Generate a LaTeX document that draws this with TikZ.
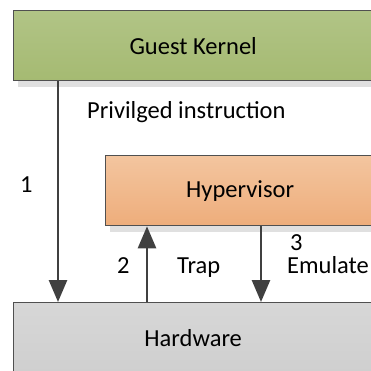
\documentclass[tikz,border=0pt]{standalone}
\usepackage{fontspec}
\setmainfont{Carlito}
\usetikzlibrary{arrows.meta,shadows,positioning}
\definecolor{gkTop}{HTML}{B1C486}
\definecolor{gkBot}{HTML}{A5BA72}
\definecolor{hvTop}{HTML}{F3C59F}
\definecolor{hvBot}{HTML}{EEAD7B}
\definecolor{hwTop}{HTML}{D7D7D7}
\definecolor{hwBot}{HTML}{CFCFCF}
\definecolor{edge}{HTML}{505050}
\definecolor{arr}{HTML}{404040}
\tikzset{
  layer/.style={draw=edge, line width=1.3pt, anchor=north west, minimum height=70pt, inner sep=0pt},
  shade/.style={drop shadow={shadow xshift=4pt, shadow yshift=-6pt, fill=black!12, opacity=1}},
  flow/.style={->, draw=arr, line width=2.6pt},
  lbl/.style={anchor=base west, inner sep=0pt}
}
\begin{document}
\begin{tikzpicture}[x=1pt, y=-1pt, font=\fontsize{24.5}{28}\selectfont, >={Triangle[width=18pt,length=22pt]}]
\useasboundingbox (0,0) rectangle (370,371);
% layers
\node[layer, shade, top color=gkTop, bottom color=gkBot, minimum width=359pt] (gk) at (13,10) {Guest Kernel};
\node[layer, shade, top color=hvTop, bottom color=hvBot, minimum width=269pt] (hv) at (105,155) {Hypervisor};
\node[layer, top color=hwTop, bottom color=hwBot, minimum width=359pt] (hw) at (13,302) {Hardware};
% arrows
\coordinate (a1) at (58,0);
\coordinate (a2) at (147,0);
\coordinate (a3) at (261,0);
\draw[flow] (gk.south -| a1) -- (hw.north -| a1);
\draw[flow] (hw.north -| a2) -- (hv.south -| a2);
\draw[flow] (hv.south -| a3) -- (hw.north -| a3);
% labels
\node[lbl] (priv) at (87,119) {Privilged instruction};
\node[lbl] (n1) at (20,192) {1};
\node[lbl] (n2) at (117,273) {2};
\node[lbl] (trap) at (177,273) {Trap};
\node[lbl] (n3) at (290,250) {3};
\node[lbl] (emu) at (287,273) {Emulate};
\end{tikzpicture}
\end{document}
